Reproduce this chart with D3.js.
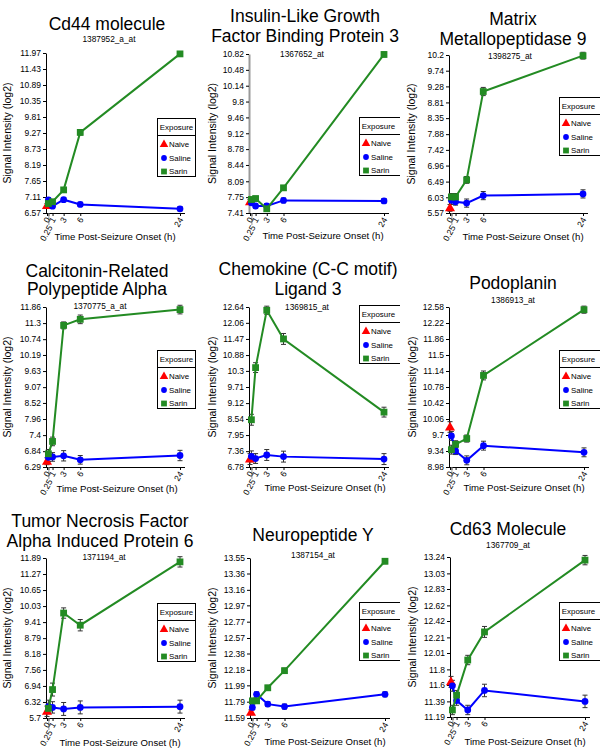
<!DOCTYPE html>
<html><head><meta charset="utf-8">
<script src="https://cdn.jsdelivr.net/npm/d3@7"></script>
<style>
body{margin:0;background:#fff}
svg{display:block}
text{font-family:"Liberation Sans",Arial,Helvetica,sans-serif;fill:#000}
</style>
</head><body>
<svg id="chart" width="600" height="755"></svg>
<script>
// ---------------- DATA ----------------
const seriesTimes = [0.25, 1, 3, 6, 24];
const naiveTime = 0;
const xTickValues = [0, 0.25, 1, 3, 6, 24];
const xTickLabels = ["0", "0.25", "1", "3", "6", "24"];
const legendNames = ["Naive", "Saline", "Sarin"];

const titleLines = [
  ["Cd44 molecule"],
  ["Insulin-Like Growth", "Factor Binding Protein 3"],
  ["Matrix", "Metallopeptidase 9"],
  ["Calcitonin-Related", "Polypeptide Alpha"],
  ["Chemokine (C-C motif)", "Ligand 3"],
  ["Podoplanin"],
  ["Tumor Necrosis Factor", "Alpha Induced Protein 6"],
  ["Neuropeptide Y"],
  ["Cd63 Molecule"]
];
const probeIds = ["1387952_a_at", "1367652_at", "1398275_at", "1370775_a_at", "1369815_at",
                  "1386913_at", "1371194_at", "1387154_at", "1367709_at"];

const yTickLabels = [
  ["6.57","7.11","7.65","8.19","8.73","9.27","9.81","10.35","10.89","11.43","11.97"],
  ["7.41","7.75","8.09","8.44","8.78","9.12","9.46","9.8","10.14","10.48","10.82"],
  ["5.57","6.03","6.49","6.96","7.42","7.88","8.35","8.81","9.28","9.74","10.2"],
  ["6.29","6.84","7.4","7.96","8.52","9.07","9.63","10.19","10.74","11.3","11.86"],
  ["6.78","7.36","7.95","8.54","9.12","9.71","10.3","10.88","11.47","12.06","12.64"],
  ["8.98","9.34","9.7","10.06","10.42","10.78","11.14","11.5","11.86","12.22","12.58"],
  ["5.7","6.32","6.94","7.56","8.18","8.79","9.41","10.03","10.65","11.27","11.89"],
  ["11.59","11.79","11.99","12.18","12.38","12.57","12.77","12.97","13.16","13.36","13.55"],
  ["11.19","11.39","11.6","11.8","12.01","12.21","12.42","12.62","12.83","13.03","13.24"]
];

const naiveMeans = [6.82, 7.65, 5.72, 6.49, 7.07, 9.88, 5.96, 11.66, 11.64];
const naiveErrs  = [0.07, 0.05, 0.10, 0.12, 0.20, 0.12, 0.20, 0.03, 0.07];

const salineMeans = [
  [7.01, 6.80, 7.02, 6.86, 6.71],
  [7.63, 7.56, 7.56, 7.68, 7.67],
  [5.94, 5.90, 5.86, 6.08, 6.13],
  [6.63, 6.64, 6.68, 6.54, 6.69],
  [7.17, 7.09, 7.22, 7.16, 7.07],
  [9.68, 9.34, 9.13, 9.46, 9.31],
  [6.14, 6.11, 6.05, 6.11, 6.14],
  [11.72, 11.88, 11.76, 11.73, 11.88],
  [11.59, 11.40, 11.28, 11.53, 11.39]
];
const salineErrs = [
  [0.07, 0.07, 0.07, 0.07, 0.07],
  [0.05, 0.05, 0.05, 0.05, 0.05],
  [0.12, 0.10, 0.12, 0.12, 0.12],
  [0.15, 0.15, 0.18, 0.15, 0.18],
  [0.20, 0.18, 0.20, 0.20, 0.20],
  [0.10, 0.08, 0.10, 0.10, 0.10],
  [0.25, 0.22, 0.25, 0.25, 0.25],
  [0.03, 0.03, 0.03, 0.03, 0.03],
  [0.07, 0.06, 0.06, 0.08, 0.08]
];
const sarinMeans = [
  [6.89, 6.95, 7.35, 9.29, 11.94],
  [7.70, 7.72, 7.50, 7.95, 10.81],
  [6.04, 6.04, 6.54, 9.13, 10.18],
  [6.75, 7.18, 11.22, 11.43, 11.77],
  [8.51, 10.42, 12.52, 11.47, 8.79],
  [9.37, 9.49, 9.62, 11.04, 12.52],
  [6.07, 6.80, 9.76, 9.29, 11.74],
  [11.80, 11.80, 11.96, 12.17, 13.51],
  [11.28, 11.47, 11.92, 12.28, 13.20]
];
const sarinErrs = [
  [0.07, 0.07, 0.07, 0.09, 0.07],
  [0.05, 0.05, 0.05, 0.05, 0.05],
  [0.10, 0.10, 0.10, 0.12, 0.10],
  [0.15, 0.15, 0.12, 0.15, 0.15],
  [0.20, 0.18, 0.15, 0.20, 0.18],
  [0.10, 0.08, 0.08, 0.10, 0.08],
  [0.20, 0.25, 0.20, 0.22, 0.20],
  [0.03, 0.03, 0.03, 0.03, 0.03],
  [0.06, 0.06, 0.06, 0.07, 0.06]
];

// ---------------- LAYOUT ----------------
const colors = {Naive: "#ff0000", Saline: "#0000ff", Sarin: "#238b23"};
const panelOrigins = [[0,0],[200,0],[400,0],[0,250],[200,250],[400,250],[0,500],[200,500],[400,500]];
const plotBox = [ // xLeft(t=0), xRight(t=24), yTop, yBottom (local)
  [47,180,53,213],[50,184,54,213],[50,183,55,213],
  [47,180,57,217],[50,184,57,217],[50,184,57,217],
  [47,180,58,218],[51,185,58,218],[51,185,57,217]
];
const titlePos = [ // cx, baselines, subtitle cx, subtitle baseline
  [107,[30],109,42],[105,[22,42],102,57],[113,[25,45],110,59],
  [97,[27,45],100,59],[108,[25,45],107,60],[113,[39],113,53],
  [100,[27,47],104,60],[113,[41],113,58],[108,[35],108,48]
];
const yLabelX = [7,12,11,7,12,12,7,12,12];
const xTitlePos = [[115,240],[123,239],[123,240],[117,242],[125,241],[124,241],[120,246],[125,245],[125,245]];
const legendPos = [[157,118,38],[159,117,42],[159,97,42],[157,100,38],[159,55,42],[159,100,42],[157,103,38],[159,102,42],[159,102,42]];

const svg = d3.select("#chart");
const defs = svg.append("defs");

function drawMarker(g, name, cx, cy, scale) {
  const s = scale || 1;
  if (name === "Naive") {
    g.append("path").attr("d", d3.symbol(d3.symbolTriangle, 44 * s * s)())
      .attr("transform", `translate(${cx},${cy + 0.5})`).attr("fill", colors.Naive);
  } else if (name === "Saline") {
    g.append("circle").attr("cx", cx).attr("cy", cy).attr("r", 3.4 * s).attr("fill", colors.Saline);
  } else {
    const h = 3.4 * s;
    g.append("rect").attr("x", cx - h).attr("y", cy - h).attr("width", 2 * h).attr("height", 2 * h)
      .attr("fill", colors.Sarin);
  }
}

function errBar(g, x, y, m, e) {
  const y1 = y(m - e), y2 = y(m + e);
  g.append("line").attr("x1", x).attr("x2", x).attr("y1", y1).attr("y2", y2)
    .attr("stroke", "#333").attr("stroke-width", 1);
  [y1, y2].forEach(yy => g.append("line").attr("x1", x - 2.5).attr("x2", x + 2.5)
    .attr("y1", yy).attr("y2", yy).attr("stroke", "#333").attr("stroke-width", 1));
}

for (let p = 0; p < 9; p++) {
  const [ox, oy] = panelOrigins[p];
  const [xL, xR, yT, yB] = plotBox[p];
  defs.append("clipPath").attr("id", "clip" + p).append("rect")
    .attr("x", 0).attr("y", 0).attr("width", 200).attr("height", p >= 6 ? 255 : 250);
  const g = svg.append("g").attr("transform", `translate(${ox},${oy})`).attr("clip-path", `url(#clip${p})`);

  const tickNums = yTickLabels[p].map(Number);
  const x = d3.scaleLinear().domain([0, 24]).range([xL, xR]);
  const y = d3.scaleLinear().domain([tickNums[0], tickNums[tickNums.length - 1]]).range([yB, yT]);

  // Title
  const tp = titlePos[p];
  titleLines[p].forEach((t, i) => {
    g.append("text").attr("x", tp[0]).attr("y", tp[1][i]).attr("text-anchor", "middle")
      .style("font-size", "17.5px").text(t);
  });
  g.append("text").attr("x", tp[2]).attr("y", tp[3]).attr("text-anchor", "middle")
    .style("font-size", "8.3px").text(probeIds[p]);

  // Y axis
  const yAxis = d3.axisLeft(y).tickValues(tickNums).tickFormat((d, i) => yTickLabels[p][i])
    .tickSize(3).tickSizeOuter(0).tickPadding(2);
  const ya = g.append("g").attr("transform", `translate(${xL - 1},0)`).call(yAxis);
  ya.selectAll("text").style("font-size", "8.5px").attr("fill", "#000");
  ya.selectAll("line").attr("stroke", "#000");
  ya.select(".domain").attr("stroke", p === 1 ? "#999" : "#000").attr("stroke-width", p === 1 ? 2 : 1);

  // X axis
  const xAxis = d3.axisBottom(x).tickValues(xTickValues).tickFormat("").tickSize(3).tickSizeOuter(0);
  const xa = g.append("g").attr("transform", `translate(0,${yB})`).call(xAxis);
  xa.select(".domain").remove();
  xa.selectAll("line").attr("stroke", "#000");
  g.append("line").attr("x1", xL - 1).attr("x2", xR + 5).attr("y1", yB + 0.5).attr("y2", yB + 0.5)
    .attr("stroke", "#000").attr("stroke-width", 1);
  // leader line for 0.25
  g.append("line").attr("x1", x(0.25) + 0.5).attr("x2", x(0.25) + 0.5).attr("y1", yB).attr("y2", yB + 12)
    .attr("stroke", "#999").attr("stroke-width", 1);
  xTickValues.forEach((t, i) => {
    const ax = x(t) + (i === 1 ? 2 : 1);
    const ay = yB + (i === 1 ? 13 : 5);
    g.append("text").attr("transform", `translate(${ax},${ay}) rotate(-60)`)
      .attr("text-anchor", "end").attr("dy", "0.35em").style("font-size", "8.5px").text(xTickLabels[i]);
  });

  // Axis titles
  g.append("text").attr("transform", `translate(${yLabelX[p]},${(yT + yB) / 2}) rotate(-90)`)
    .attr("text-anchor", "middle").attr("dy", "0.35em").style("font-size", "10.5px")
    .text("Signal Intensity (log2)");
  g.append("text").attr("x", xTitlePos[p][0]).attr("y", xTitlePos[p][1]).attr("text-anchor", "middle")
    .style("font-size", "9.6px").text("Time Post-Seizure Onset (h)");

  // Data
  const line = d3.line().x(d => x(d[0])).y(d => y(d[1]));
  const sal = seriesTimes.map((t, i) => [t, salineMeans[p][i], salineErrs[p][i]]);
  const sar = seriesTimes.map((t, i) => [t, sarinMeans[p][i], sarinErrs[p][i]]);

  errBar(g, x(naiveTime), y, naiveMeans[p], naiveErrs[p]);
  sal.forEach(d => errBar(g, x(d[0]), y, d[1], d[2]));
  sar.forEach(d => errBar(g, x(d[0]), y, d[1], d[2]));

  drawMarker(g, "Naive", x(naiveTime), y(naiveMeans[p]));
  g.append("path").datum(sal).attr("d", line).attr("fill", "none")
    .attr("stroke", colors.Saline).attr("stroke-width", 2);
  sal.forEach(d => drawMarker(g, "Saline", x(d[0]), y(d[1])));
  g.append("path").datum(sar).attr("d", line).attr("fill", "none")
    .attr("stroke", colors.Sarin).attr("stroke-width", 2);
  sar.forEach(d => drawMarker(g, "Sarin", x(d[0]), y(d[1])));

  // Legend
  const [lx, ly, lw] = legendPos[p];
  const lg = g.append("g").attr("transform", `translate(${lx},${ly})`);
  lg.append("rect").attr("x", 0.5).attr("y", 0.5).attr("width", lw).attr("height", 58)
    .attr("fill", "#fff").attr("stroke", "#000").attr("stroke-width", 1);
  lg.append("line").attr("x1", 0.5).attr("x2", lw + 0.5).attr("y1", 17.5).attr("y2", 17.5)
    .attr("stroke", "#000").attr("stroke-width", 1);
  lg.append("text").attr("x", 19.5).attr("y", 12).attr("text-anchor", "middle")
    .style("font-size", "7.9px").text("Exposure");
  const rowY = [26, 40, 53.5];
  legendNames.forEach((n, i) => {
    drawMarker(lg, n, 7, rowY[i], 0.85);
    lg.append("text").attr("x", 12).attr("y", rowY[i]).attr("dy", "0.35em")
      .style("font-size", "7.9px").text(n);
  });
}
</script>
</body></html>
